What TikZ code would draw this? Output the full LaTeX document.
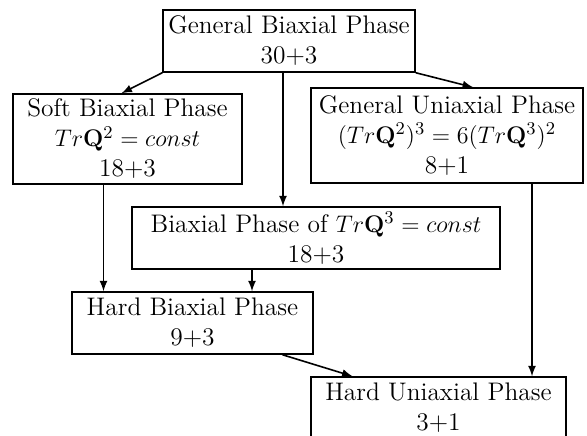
\documentclass[tikz,border=0pt]{standalone}
\usepackage{amsmath}
\usepackage{amssymb}
\usepackage{tikz}
\usetikzlibrary{arrows,positioning}
\tikzset{
	x=0.5pt,
	y=-0.5pt,
	>=latex,
	phase/.style={
		draw=black,
		line width=0.75pt,
		align=center,
		inner sep=2pt,
		font=\fontsize{12.7}{15}\selectfont
	}
}
\begin{document}
\begin{tikzpicture}[line width=0.8pt]
  \useasboundingbox (0,0) rectangle (587,435);
  \node [phase, minimum width=126pt, minimum height=31pt] (gb) at (289,41) {General Biaxial Phase\\ 30+3};
  \node [phase, minimum width=114.5pt, minimum height=45pt] (soft) at (127.5,139) {Soft Biaxial Phase\\ $Tr\mathbf{Q}^2 = const$\\ 18+3};
  \node [phase, minimum width=136pt, minimum height=47.5pt] (guni) at (447,135.5) {General Uniaxial Phase\\ $(Tr\mathbf{Q}^2)^3 = 6(Tr\mathbf{Q}^3)^2$\\ 8+1};
  \node [phase, minimum width=184pt, minimum height=31pt] (btr) at (316,238) {Biaxial Phase of $Tr\mathbf{Q}^3 = const$\\ 18+3};
  \node [phase, minimum width=120.5pt, minimum height=31pt] (hb) at (192.5,323) {Hard Biaxial Phase\\ 9+3};
  \node [phase, minimum width=127.5pt, minimum height=31pt] (hu) at (438.5,408) {Hard Uniaxial Phase\\ 3+1};

  \draw [->] (gb.south west) -- ([xshift=-3pt]soft.north);
  \draw [->] ([xshift=-3pt]gb.south) -- ([xshift=-3pt]gb.south |- btr.north);
  \draw [->] (gb.south east) -- ([xshift=13pt]guni.north);
  \draw [->] ([xshift=-12pt]soft.south) -- ([xshift=-12pt]soft.south |- hb.north);
  \draw [->] ([xshift=-32pt]btr.south) -- ([xshift=-32pt]btr.south |- hb.north);
  \draw [->] ([xshift=45pt]hb.south) -- ([xshift=-43pt]hu.north);
  \draw [->] ([xshift=42.5pt]guni.south) -- ([xshift=42.5pt]guni.south |- hu.north);
\end{tikzpicture}
\end{document}
